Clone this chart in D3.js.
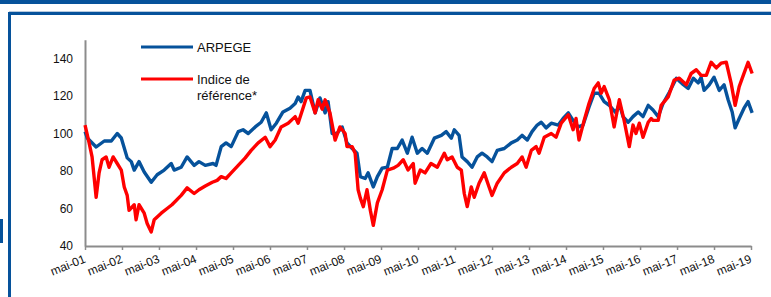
<!DOCTYPE html>
<html><head><meta charset="utf-8">
<script src="https://cdn.jsdelivr.net/npm/d3@7"></script>
<style>html,body{margin:0;padding:0;background:#fff;}svg{display:block;}</style>
</head><body>
<svg id="c" width="771" height="297"></svg>
<script>
const arpegeYears = [2001.33,2001.39,2001.63,2001.85,2002.04,2002.20,2002.31,2002.47,2002.58,2002.66,2002.79,2002.93,2003.12,2003.28,2003.47,2003.66,2003.74,2003.93,2004.09,2004.28,2004.41,2004.58,2004.79,2004.87,2005.01,2005.14,2005.28,2005.47,2005.60,2005.74,2005.93,2006.09,2006.23,2006.36,2006.50,2006.68,2006.87,2007.01,2007.09,2007.17,2007.28,2007.41,2007.55,2007.68,2007.82,2007.90,2008.01,2008.14,2008.28,2008.41,2008.55,2008.68,2008.77,2008.90,2008.98,2009.12,2009.23,2009.36,2009.50,2009.63,2009.77,2009.90,2010.04,2010.17,2010.31,2010.44,2010.58,2010.77,2010.96,2011.09,2011.23,2011.31,2011.44,2011.52,2011.66,2011.79,2011.93,2012.06,2012.20,2012.33,2012.47,2012.66,2012.85,2013.01,2013.14,2013.28,2013.41,2013.55,2013.66,2013.79,2013.93,2014.12,2014.25,2014.39,2014.52,2014.66,2014.79,2014.95,2015.09,2015.22,2015.36,2015.50,2015.68,2015.77,2015.87,2016.01,2016.14,2016.28,2016.41,2016.55,2016.68,2016.82,2016.95,2017.12,2017.31,2017.50,2017.63,2017.77,2017.90,2017.98,2018.06,2018.20,2018.33,2018.47,2018.60,2018.71,2018.82,2018.90,2019.01,2019.14,2019.25,2019.36];
const arpegeValues = [101,97.6,92.8,96,96,100,97.6,87,85,80.5,85,79.5,74,78,80.5,84,80.5,82,87.5,83,85,83,84,83,93,95,93,101,102,100,103.5,106,111,102,105.5,111.5,113.5,116,119.5,117,123,123,111,119,111,117,100,100,103.5,95,92,89.5,77,76,79,71.5,77,81.5,82,92,92,96.5,89.5,98,89.5,92,89.5,97.5,99,101,97.5,102,99,87.5,85,82,87.5,89.5,87.5,85,91,92,95,96.5,99,96.5,101,104.5,106,103,105.5,104.5,108,111,107,103.5,104.5,114,121.5,121.5,117,115,111,116,109,106,109,111.5,109,115,112.5,109,116,122,129.5,126,124,129.5,127,130,123,126,130,123,126,118,111.5,103,108,113.5,117,111];
const refYears = [2001.33,2001.44,2001.52,2001.63,2001.71,2001.79,2001.90,2001.98,2002.09,2002.20,2002.31,2002.39,2002.47,2002.52,2002.66,2002.71,2002.79,2002.93,2003.01,2003.12,2003.20,2003.39,2003.55,2003.68,2003.93,2004.09,2004.28,2004.41,2004.58,2004.77,2004.90,2005.01,2005.14,2005.28,2005.47,2005.66,2005.82,2006.01,2006.20,2006.33,2006.47,2006.63,2006.82,2007.01,2007.09,2007.23,2007.31,2007.41,2007.55,2007.63,2007.74,2007.82,2007.95,2008.09,2008.22,2008.36,2008.41,2008.55,2008.63,2008.71,2008.77,2008.85,2008.95,2009.04,2009.12,2009.23,2009.36,2009.50,2009.66,2009.79,2009.93,2010.06,2010.20,2010.25,2010.39,2010.52,2010.68,2010.85,2011.04,2011.12,2011.25,2011.39,2011.50,2011.58,2011.66,2011.77,2011.85,2011.98,2012.12,2012.25,2012.33,2012.47,2012.66,2012.85,2013.01,2013.14,2013.25,2013.39,2013.52,2013.60,2013.74,2013.93,2014.06,2014.20,2014.39,2014.52,2014.60,2014.68,2014.82,2014.95,2015.09,2015.20,2015.28,2015.36,2015.50,2015.63,2015.77,2015.90,2016.04,2016.14,2016.22,2016.31,2016.41,2016.55,2016.63,2016.68,2016.82,2016.90,2017.09,2017.25,2017.39,2017.58,2017.71,2017.85,2017.98,2018.12,2018.25,2018.39,2018.52,2018.66,2018.79,2018.90,2019.01,2019.12,2019.25,2019.36];
const refValues = [104.5,95,87.5,66,79,86,87.5,82,87.5,84,80.5,71.5,67,59,62,54,62,57.5,52,47.5,54,57.5,60,62,67,71,68,70,72,74,75,77,76,79,83,87,91,95,98,93,96.5,103.5,105.5,109,105.5,114,119,119.5,111,118,113,118,111,96.5,103.5,100,93,93,89.5,70,65.5,61,70,59,51,63,70,80.5,81.5,83,86,80.5,84,73.5,80.5,79,84,82,89.5,86,87.5,82,80.5,68,61,71.5,66,73.5,79,71.5,67,73.5,79,82,84,87.5,82,91,93,89.5,98,100,98,105.5,110,102,108,96.5,107,116,124,127,121.5,125,118,103.5,118,107,93,104.5,100,105.5,98,106,108,107,107,115,119.5,128.5,129.5,126,132,134,131,131,138,135,137.5,138,127,115,125,131,138,132];
const yTicks = [40,60,80,100,120,140];
const tickYears = [2001,2002,2003,2004,2005,2006,2007,2008,2009,2010,2011,2012,2013,2014,2015,2016,2017,2018,2019];
const seriesNames = ["ARPEGE","Indice de|référence*"];

const BLUE = "#06529b", RED = "#ff0000", GRAY = "#8c8c8c";
const FONT = "'Liberation Sans', Arial, sans-serif";
function toDate(dy){ const y=Math.floor(dy); const s=new Date(y,0,1), e=new Date(y+1,0,1); return new Date(+s + (dy-y)*(e-s)); }

const svg = d3.select("#c");
svg.append("rect").attr("x",0).attr("y",0).attr("width",771).attr("height",4).attr("fill",BLUE);
svg.append("rect").attr("x",9.5).attr("y",13.5).attr("width",780).attr("height",300).attr("fill","none").attr("stroke",BLUE).attr("stroke-width",3);
svg.append("line").attr("x1",9).attr("x2",771).attr("y1",11.5).attr("y2",11.5).attr("stroke","#b7c9dd").attr("stroke-width",1);
svg.append("rect").attr("x",0).attr("y",219).attr("width",3).attr("height",24).attr("fill",BLUE);

const x = d3.scaleTime().domain([new Date(2001,4,1), new Date(2019,4,1)]).range([85,751]);
const y = d3.scaleLinear().domain([40,150]).range([246,39.75]);

const yAxis = svg.append("g").attr("transform","translate(85,0)")
  .call(d3.axisLeft(y).tickValues(yTicks).tickSize(0).tickSizeOuter(0).tickPadding(12));
yAxis.select(".domain").attr("stroke",GRAY).attr("stroke-width",2);
yAxis.selectAll("text").attr("font-family",FONT).attr("font-size",12).attr("fill","#111");

const xAxis = svg.append("g").attr("transform","translate(0,246)")
  .call(d3.axisBottom(x).tickValues(tickYears.map(t=>new Date(t,4,1))).tickSize(4).tickSizeOuter(0)
    .tickFormat(d=>"mai-"+String(d.getFullYear()%100).padStart(2,"0")));
xAxis.select(".domain").attr("stroke",GRAY).attr("stroke-width",2);
xAxis.selectAll(".tick line").attr("stroke",GRAY).attr("stroke-width",1.5);
xAxis.selectAll("text").attr("font-family",FONT).attr("font-size",12).attr("fill","#111")
  .attr("text-anchor","end").attr("dy",null).attr("y",0)
  .attr("transform","translate(1,16) rotate(-22)");

const line = d3.line().x(d=>x(toDate(d[0]))).y(d=>y(d[1]));
const aData = arpegeYears.map((t,i)=>[t,arpegeValues[i]]);
const rData = refYears.map((t,i)=>[t,refValues[i]]);
svg.append("path").datum(aData).attr("d",line).attr("fill","none").attr("stroke",BLUE).attr("stroke-width",3.4).attr("stroke-linejoin","round");
svg.append("path").datum(rData).attr("d",line).attr("fill","none").attr("stroke",RED).attr("stroke-width",3.4).attr("stroke-linejoin","round");

const lg = svg.append("g");
[[BLUE,47],[RED,79]].forEach((c,i)=>{
  lg.append("line").attr("x1",141).attr("x2",193).attr("y1",c[1]).attr("y2",c[1]).attr("stroke",c[0]).attr("stroke-width",3);
  seriesNames[i].split("|").forEach((s,j)=>{
    lg.append("text").attr("x",197).attr("y",c[1]+4.5+j*16).attr("font-family",FONT).attr("font-size",13).attr("fill","#111").text(s);
  });
});
</script>
</body></html>
